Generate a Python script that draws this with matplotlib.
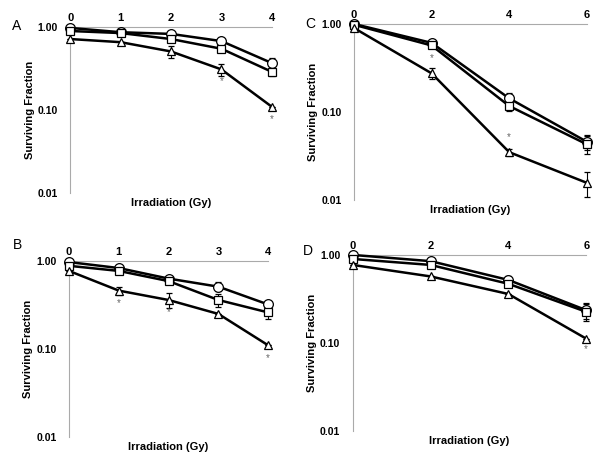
"""Clonogenic survival curves, four panels (A-D)."""

import matplotlib
matplotlib.use("Agg")
import matplotlib.pyplot as plt
from matplotlib.ticker import FixedLocator, FixedFormatter

plt.rcParams["font.family"] = ["Liberation Sans", "DejaVu Sans"]

# ---- data ------------------------------------------------------------------
dose_ab = [0, 1, 2, 3, 4]
dose_cd = [0, 2, 4, 6]

a_circle = [0.98, 0.87, 0.83, 0.68, 0.37]
a_square = [0.90, 0.85, 0.72, 0.55, 0.29]
a_triangle = [0.72, 0.66, 0.51, 0.31, 0.11]
a_circle_err = [0.0, 0.0, 0.0, 0.0, 0.05]
a_square_err = [0.0, 0.0, 0.0, 0.0, 0.03]
a_triangle_err = [0.0, 0.0, 0.08, 0.05, 0.0]
a_sig = [3, 4]

b_circle = [0.97, 0.83, 0.63, 0.51, 0.32]
b_square = [0.88, 0.77, 0.59, 0.36, 0.26]
b_triangle = [0.77, 0.46, 0.36, 0.25, 0.11]
b_circle_err = [0.0, 0.0, 0.0, 0.06, 0.0]
b_square_err = [0.0, 0.0, 0.0, 0.06, 0.04]
b_triangle_err = [0.0, 0.05, 0.07, 0.0, 0.0]
b_sig = [1, 2, 4]

c_circle = [1.00, 0.61, 0.143, 0.046]
c_square = [0.98, 0.57, 0.117, 0.043]
c_triangle = [0.90, 0.275, 0.035, 0.0157]
c_circle_err = [0.0, 0.0, 0.02, 0.009]
c_square_err = [0.0, 0.0, 0.015, 0.01]
c_triangle_err = [0.0, 0.04, 0.003, 0.005]
c_sig = [1, 2]

d_circle = [1.00, 0.85, 0.52, 0.236]
d_square = [0.90, 0.77, 0.47, 0.226]
d_triangle = [0.77, 0.57, 0.36, 0.112]
d_circle_err = [0.0, 0.0, 0.06, 0.05]
d_square_err = [0.0, 0.0, 0.0, 0.05]
d_triangle_err = [0.0, 0.0, 0.0, 0.0]
d_sig = [3]

panels = [
    ("A", dose_ab, [a_circle, a_square, a_triangle], [a_circle_err, a_square_err, a_triangle_err], a_sig, 0.72),
    ("B", dose_ab, [b_circle, b_square, b_triangle], [b_circle_err, b_square_err, b_triangle_err], b_sig, 0.72),
    ("C", dose_cd, [c_circle, c_square, c_triangle], [c_circle_err, c_square_err, c_triangle_err], c_sig, 1.5),
    ("D", dose_cd, [d_circle, d_square, d_triangle], [d_circle_err, d_square_err, d_triangle_err], d_sig, 0.76),
]

positions = {
    "A": [0.117, 0.581, 0.336, 0.360],
    "B": [0.115, 0.052, 0.332, 0.382],
    "C": [0.590, 0.566, 0.388, 0.382],
    "D": [0.588, 0.065, 0.389, 0.382],
}
letter_pos = {"A": (-0.29, 1.01), "B": (-0.28, 1.09), "C": (-0.21, 1.0), "D": (-0.215, 1.02)}

markers = ["o", "s", "^"]
marker_sizes = [7, 6, 6]

fig = plt.figure(figsize=(6.0, 4.61), dpi=100)

for letter, dose, series, errors, sig, sig_factor in panels:
    ax = fig.add_axes(positions[letter])
    ax.set_yscale("log")
    ax.set_ylim(0.01, 1.0)
    ax.set_xlim(0, dose[-1])

    for values, err, marker, ms in zip(series, errors, markers, marker_sizes):
        ax.errorbar(dose, values, yerr=err, color="black", lw=1.8, marker=marker,
                    ms=ms, mfc="white", mec="black", mew=0.9, ecolor="black",
                    elinewidth=0.8, capsize=2, capthick=0.8, clip_on=False, zorder=3)

    triangle = series[2]
    for idx in sig:
        ax.text(dose[idx], triangle[idx] * sig_factor, "*", ha="center", va="center",
                fontsize=7, color="#666666")

    for side in ("right", "bottom"):
        ax.spines[side].set_visible(False)
    ax.spines["left"].set_color("#aaaaaa")
    ax.spines["top"].set_color("#aaaaaa")
    ax.spines["left"].set_linewidth(0.8)
    ax.spines["top"].set_linewidth(0.8)

    ax.xaxis.tick_top()
    ax.set_xticks(dose)
    ax.set_xticklabels([str(d) for d in dose], fontsize=8, fontweight="bold")
    ax.tick_params(axis="x", length=0, pad=3)

    ax.yaxis.set_major_locator(FixedLocator([0.01, 0.1, 1.0]))
    ax.yaxis.set_major_formatter(FixedFormatter(["0.01", "0.10", "1.00"]))
    ax.yaxis.set_minor_locator(FixedLocator([]))
    ax.tick_params(axis="y", length=0, pad=9, labelsize=7.5)
    for lbl in ax.get_yticklabels():
        lbl.set_fontweight("bold")

    ax.set_ylabel("Surviving Fraction", fontsize=8, fontweight="bold", labelpad=2)
    ax.text(0.5, -0.03, "Irradiation (Gy)", transform=ax.transAxes, ha="center",
            va="top", fontsize=8, fontweight="bold")

    lx, ly = letter_pos[letter]
    ax.text(lx, ly, letter, transform=ax.transAxes, ha="left", va="center",
            fontsize=10)

fig.savefig("out.png", dpi=100)
